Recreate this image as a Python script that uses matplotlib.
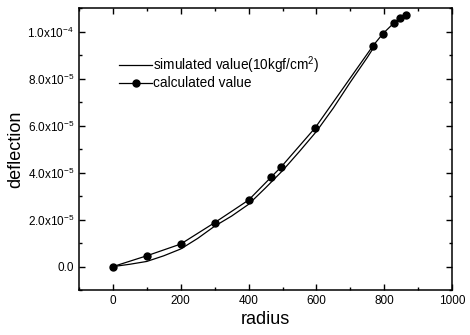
import math
import matplotlib
matplotlib.use("Agg")
import matplotlib.pyplot as plt
from matplotlib.ticker import FixedLocator, MultipleLocator, FuncFormatter

plt.rcParams['font.family'] = ['Liberation Sans', 'DejaVu Sans']
plt.rcParams['mathtext.fontset'] = 'custom'
plt.rcParams['mathtext.rm'] = 'Liberation Sans'
plt.rcParams['mathtext.it'] = 'Liberation Sans:italic'
plt.rcParams['mathtext.bf'] = 'Liberation Sans:bold'

# calculated value (points)
calc_r = [0, 100, 200, 300, 400, 466, 496, 596, 767, 796, 828, 845, 865]
calc_d = [0.0, 4.6e-6, 9.6e-6, 1.87e-5, 2.83e-5, 3.80e-5, 4.24e-5, 5.90e-5,
          9.40e-5, 9.91e-5, 1.036e-4, 1.057e-4, 1.072e-4]

# simulated value (line)
sim_r = [0, 50, 100, 150, 200, 250, 300, 350, 400, 450, 500, 550, 600,
         650, 700, 750, 770]
sim_d = [0.0, 1.0e-6, 2.2e-6, 4.6e-6, 7.5e-6, 1.2e-5, 1.72e-5, 2.15e-5, 2.65e-5,
         3.35e-5, 4.08e-5, 4.9e-5, 5.75e-5, 6.75e-5, 7.85e-5, 8.9e-5, 9.35e-5]

x_ticks = [0, 200, 400, 600, 800, 1000]
y_ticks = [0.0, 2e-5, 4e-5, 6e-5, 8e-5, 1e-4]

fig = plt.figure(figsize=(4.7, 3.35), dpi=100)
ax = fig.add_axes([0.168, 0.134, 0.794, 0.842])

ax.plot(sim_r, sim_d, color='black', lw=0.9,
        label='simulated value(10kgf/cm$^2$)')
ax.plot(calc_r, calc_d, color='black', lw=0.9, marker='o', ms=5,
        label='calculated value')

ax.set_xlim(-100, 1000)
ax.set_ylim(-1e-5, 1.1e-4)
ax.xaxis.set_major_locator(FixedLocator(x_ticks))
ax.xaxis.set_minor_locator(MultipleLocator(100))
ax.yaxis.set_major_locator(FixedLocator(y_ticks))
ax.yaxis.set_minor_locator(MultipleLocator(1e-5))


def yfmt(v, pos):
    if abs(v) < 1e-12:
        return '0.0'
    e = int(math.floor(math.log10(abs(v)) + 1e-9))
    m = v / 10 ** e
    return f'{m:.1f}x10$^{{{e}}}$'


ax.yaxis.set_major_formatter(FuncFormatter(yfmt))
ax.tick_params(which='both', direction='in', top=True, right=True,
               labelsize=8.5, width=1)
ax.tick_params(which='major', length=4)
ax.tick_params(which='minor', length=2)
for s in ax.spines.values():
    s.set_linewidth(1.1)

ax.set_xlabel('radius', fontsize=13, labelpad=3)
ax.set_ylabel('deflection', fontsize=13, labelpad=2)

ax.legend(loc='upper left', bbox_to_anchor=(0.075, 0.88), frameon=False,
          fontsize=9.8, handlelength=2.4, handletextpad=0.1, labelspacing=0.05)

fig.savefig('out.png', dpi=100)
